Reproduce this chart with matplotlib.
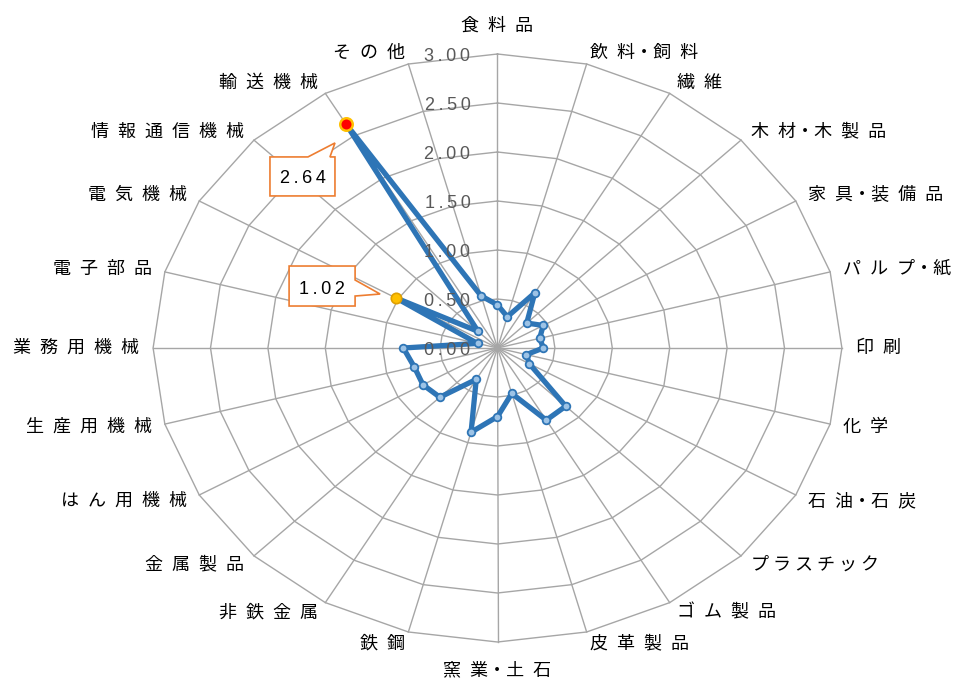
import numpy as np
import matplotlib.pyplot as plt
from matplotlib.patches import Polygon
from matplotlib import transforms

# 業種別の値（上から時計回り）
categories = ['食料品', '飲料・飼料', '繊維', '木材・木製品', '家具・装備品', 'パルプ・紙',
              '印刷', '化学', '石油・石炭', 'プラスチック', 'ゴム製品', '皮革製品',
              '窯業・土石', '鉄鋼', '非鉄金属', '金属製品', 'はん用機械', '生産用機械',
              '業務用機械', '電子部品', '電気機械', '情報通信機械', '輸送機械', 'その他']
values = [0.44, 0.33, 0.65, 0.36, 0.46, 0.38,
          0.40, 0.26, 0.32, 0.84, 0.85, 0.48,
          0.70, 0.89, 0.37, 0.71, 0.75, 0.75,
          0.82, 0.18, 1.02, 0.24, 2.64, 0.55]
ring_values = [0.0, 0.5, 1.0, 1.5, 2.0, 2.5, 3.0]
ring_labels = ['0.00', '0.50', '1.00', '1.50', '2.00', '2.50', '3.00']
highlight_red = '輸送機械'
highlight_yellow = '電気機械'

W, H = 954, 679
cx, cy = 497.5, 331.0      # 中心（ピクセル、下から）
sx, sy = 114.8, 98.0       # 1.0あたりのピクセル

fig = plt.figure(figsize=(W / 100, H / 100), dpi=100)
ax = fig.add_axes([0, 0, 1, 1])
ax.set_xlim(-cx / sx, (W - cx) / sx)
ax.set_ylim(-cy / sy, (H - cy) / sy)
ax.axis('off')

n = len(categories)
theta = np.arange(n) * 2 * np.pi / n
vals = np.array(values)

def to_xy(r, t):
    return r * np.sin(t), r * np.cos(t)

grid_col = '#A6A6A6'
rmax = ring_values[-1]

# 多角形のグリッド
for r in ring_values[1:]:
    gx, gy = to_xy(r, np.append(theta, theta[0]))
    ax.plot(gx, gy, color=grid_col, lw=1.0, zorder=1)
for t in theta:
    ex, ey = to_xy(rmax, t)
    ax.plot([0, ex], [0, ey], color=grid_col, lw=1.0, zorder=1)

# 目盛りラベル
for r, lab in zip(ring_values, ring_labels):
    ax.text(-27 / sx, r, '\u2009'.join(lab), ha='right', va='center_baseline',
            fontsize=13, color='#595959', family=['Liberation Sans', 'DejaVu Sans'],
            zorder=5)

# 項目ラベル（字間を空ける）
cjk = ['Noto Sans CJK JP', 'DejaVu Sans']

def is_kata(ch):
    return '\u30a0' <= ch <= '\u30ff'

def spaced(name):
    gap = ' ' if all(is_kata(ch) for ch in name) else '\u2002'
    out = ''
    for i, ch in enumerate(name):
        out += ch
        if i < len(name) - 1 and ch != '・' and name[i + 1] != '・':
            out += gap
    return out

for name, t in zip(categories, theta):
    txt = spaced(name)
    s, c = np.sin(t), np.cos(t)
    if abs(s) < 0.01:
        lx, ly = to_xy(3.2, t)
        ax.text(lx, ly, txt, ha='center', va='bottom' if c > 0 else 'top',
                fontsize=13, family=cjk, color='black')
    else:
        lx, ly = to_xy(3.12, t)
        ax.text(lx, ly, txt, ha='left' if s > 0 else 'right', va='center',
                fontsize=13, family=cjk, color='black')

# データ系列
line_col = '#2E75B6'
px, py = to_xy(np.append(vals, vals[0]), np.append(theta, theta[0]))
ax.plot(px, py, color=line_col, lw=3.8, solid_joinstyle='round', zorder=3)
ax.plot(px[:-1], py[:-1], 'o', ms=5.5, mfc='#9DC3E6', mec=line_col, mew=1.3, zorder=4)

i_red = categories.index(highlight_red)
i_yel = categories.index(highlight_yellow)
rx, ry = to_xy(vals[i_red], theta[i_red])
yx, yy = to_xy(vals[i_yel], theta[i_yel])
ax.plot(rx, ry, 'o', ms=9, mfc='#FF0000', mec='#FFC000', mew=1.8, zorder=6)
ax.plot(yx, yy, 'o', ms=7.5, mfc='#FFC000', mec='#E0A000', mew=1.2, zorder=6)

# 吹き出し（ピクセル単位のオフセット、下向きが正）
callout_col = '#ED7D31'

def callout(xd, yd, verts, text_pos, text):
    tr = transforms.Affine2D().scale(1, -1) + transforms.ScaledTranslation(xd, yd, ax.transData)
    ax.add_patch(Polygon(verts, closed=True, fc='white', ec=callout_col, lw=1.2,
                         transform=tr, zorder=7))
    ax.text(text_pos[0], text_pos[1], '\u2009'.join(text), transform=tr, ha='center',
            va='center_baseline', fontsize=13, color='black',
            family=['Liberation Sans', 'DejaVu Sans'], zorder=8)

callout(rx, ry,
        [(-76, 33), (-38, 33), (-11, 19), (-16, 33), (-11, 33), (-11, 72), (-76, 72)],
        (-43.5, 53), f'{vals[i_red]:.2f}')
callout(yx, yy,
        [(-107, -32), (-41, -32), (-41, -18), (-16, -4), (-41, -2), (-41, 8), (-107, 8)],
        (-74, -11), f'{vals[i_yel]:.2f}')

fig.savefig('out.png', dpi=100)
